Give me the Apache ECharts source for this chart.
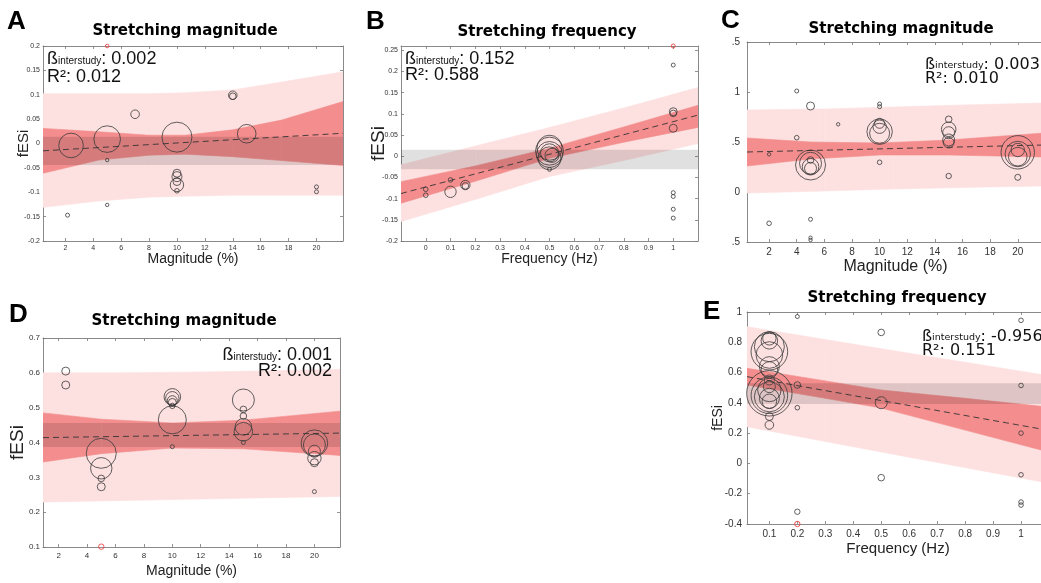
<!DOCTYPE html>
<html>
<head>
<meta charset="utf-8">
<title>fESi meta-regression</title>
<script src="https://cdn.jsdelivr.net/npm/echarts@6/dist/echarts.min.js"></script>
<style>
html, body { margin: 0; padding: 0; background: #fff; }
#chart { width: 1041px; height: 583px; }
</style>
</head>
<body>
<div id="chart"></div>
<script>
// ---- tick values ----
var magTicks = [2, 4, 6, 8, 10, 12, 14, 16, 18, 20];
var freqTicks = [0, 0.1, 0.2, 0.3, 0.4, 0.5, 0.6, 0.7, 0.8, 0.9, 1];
var freqTicksE = [0.1, 0.2, 0.3, 0.4, 0.5, 0.6, 0.7, 0.8, 0.9, 1];
var aYTicks = [-0.2, -0.15, -0.1, -0.05, 0, 0.05, 0.1, 0.15, 0.2];
var bYTicks = [-0.2, -0.15, -0.1, -0.05, 0, 0.05, 0.1, 0.15, 0.2, 0.25];
var cYTicks = [-0.5, 0, 0.5, 1, 1.5];
var cYLabels = ['.5', '0', '.5', '1', '.5'];
var dYTicks = [0.1, 0.2, 0.3, 0.4, 0.5, 0.6, 0.7];
var eYTicks = [-0.4, -0.2, 0, 0.2, 0.4, 0.6, 0.8, 1];

// ---- A: stretching magnitude ----  [x, fESi, weight]
var aStudies = [[2.16, -0.147, 2], [2.41, -0.004, 12.3], [5, 0.009, 13.3], [5, -0.034, 1.7], [5, -0.126, 1.7],
  [7, 0.060, 4.3], [10, 0.013, 15], [10, -0.061, 4], [10, -0.068, 5], [10, -0.078, 4], [10, -0.085, 6.7],
  [10, -0.097, 2.3], [14, 0.099, 4.3], [14, 0.097, 3.3], [15, 0.020, 9.3], [20, -0.089, 2], [20, -0.099, 2]];
var aOutliers = [[5, 0.2, 1.8]];
// [x, lower, upper]
var aOuter = [[0.4, -0.131, 0.102], [4.4, -0.118, 0.102], [8, -0.110, 0.102], [10.6, -0.108, 0.104],
  [14, -0.106, 0.110], [17.5, -0.106, 0.126], [21.9, -0.106, 0.147]];
var aInner = [[0.4, -0.061, 0.031], [4.4, -0.034, 0.024], [8, -0.024, 0.017], [10.6, -0.022, 0.017],
  [14, -0.027, 0.028], [17.5, -0.035, 0.048], [21.9, -0.045, 0.086]];
var aNull = [[0.4, -0.044, 0.014], [21.9, -0.044, 0.014]];
var aFit = [[0.4, -0.015], [21.9, 0.021]];

// ---- B: stretching frequency ----
var bStudies = [[0, -0.078, 2.3], [0, -0.092, 2.3], [0.1, -0.056, 2.3], [0.1, -0.084, 5.7], [0.16, -0.068, 4.7],
  [0.16, -0.070, 3.3], [0.5, 0.020, 12.5], [0.5, 0.012, 14], [0.5, 0.004, 13], [0.5, -0.005, 11.5],
  [0.5, 0.008, 9], [0.51, 0.002, 7], [0.5, -0.031, 2], [1, 0.215, 2], [1, 0.105, 4], [1, 0.101, 3.3],
  [1, 0.066, 4], [1, -0.086, 2], [1, -0.095, 2], [1, -0.125, 2], [1, -0.146, 2]];
var bOutliers = [[1, 0.26, 2]];
var bOuter = [[-0.1, -0.154, -0.020], [0.2, -0.102, 0.024], [0.5, -0.048, 0.068], [0.8, -0.010, 0.114], [1.1, 0.030, 0.162]];
var bInner = [[-0.1, -0.111, -0.060], [0.2, -0.059, -0.023], [0.5, -0.005, 0.019], [0.8, 0.033, 0.069], [1.1, 0.068, 0.120]];
var bNull = [[-0.1, -0.031, 0.015], [1.1, -0.031, 0.015]];
var bFit = [[-0.1, -0.088], [1.1, 0.097]];

// ---- C: stretching magnitude ----
var cStudies = [[2, 0.377, 1.7], [2, -0.313, 2.3], [4, 1.01, 2], [4, 0.543, 2.3], [5, 0.86, 4], [5, 0.27, 15],
  [5, 0.287, 11], [5, 0.253, 8.3], [5, 0.237, 6], [5, 0.32, 3.3], [5, -0.273, 2], [5, -0.457, 1.7], [5, -0.48, 1.7],
  [7, 0.677, 1.7], [10, 0.88, 2], [10, 0.853, 2], [10, 0.603, 12.7], [10, 0.587, 10], [10, 0.653, 6.7],
  [10, 0.687, 5], [10, 0.297, 2.3], [15, 0.727, 3.3], [15, 0.627, 7.3], [15, 0.593, 6], [15, 0.52, 6],
  [15, 0.493, 5.3], [15, 0.16, 2.7], [20, 0.397, 16.7], [20, 0.38, 12.7], [20, 0.42, 6.7], [20, 0.353, 9.3],
  [20, 0.147, 3]];
var cOutliers = [[5, -0.503, 1.7]];
var cOuter = [[0.4, -0.01, 0.82], [6, 0.01, 0.83], [11, 0.03, 0.85], [16, 0.045, 0.87], [21.9, 0.06, 0.89]];
var cInner = [[0.4, 0.26, 0.54], [5, 0.33, 0.50], [10, 0.37, 0.49], [15, 0.37, 0.52], [21.9, 0.35, 0.59]];
var cFit = [[0.4, 0.40], [21.9, 0.47]];

// ---- D: stretching magnitude ----
var dStudies = [[2.5, 0.605, 4], [2.5, 0.565, 4], [5, 0.369, 15], [5, 0.326, 10.7], [5, 0.297, 3.3], [5, 0.273, 4],
  [10, 0.531, 8.3], [10, 0.527, 6.7], [10, 0.52, 5], [10, 0.515, 4], [10, 0.505, 2.7], [10, 0.465, 14],
  [10, 0.388, 2], [15, 0.522, 11], [15, 0.495, 3.3], [15, 0.476, 3.3], [15, 0.445, 8.3], [15, 0.431, 9.3],
  [15, 0.4, 2], [20, 0.398, 13.3], [20, 0.393, 11], [20, 0.375, 6], [20, 0.355, 6.7], [20, 0.342, 4],
  [20, 0.259, 2]];
var dOutliers = [[5, 0.101, 2.7]];
var dOuter = [[0.9, 0.229, 0.600], [6, 0.233, 0.600], [11, 0.237, 0.602], [16, 0.241, 0.605], [21.8, 0.245, 0.610]];
var dInner = [[0.9, 0.344, 0.485], [5, 0.368, 0.467], [10, 0.384, 0.456], [15, 0.382, 0.464], [21.8, 0.363, 0.490]];
var dNull = [[0.9, 0.387, 0.456], [21.8, 0.387, 0.456]];
var dFit = [[0.9, 0.414], [21.8, 0.427]];

// ---- E: stretching frequency ----
var eStudies = [[0.1, 0.826, 6.7], [0.1, 0.81, 8.3], [0.1, 0.771, 15], [0.1, 0.738, 18.3], [0.1, 0.716, 13.3],
  [0.1, 0.639, 10], [0.1, 0.617, 8.3], [0.1, 0.551, 5], [0.1, 0.507, 6], [0.1, 0.485, 11.7], [0.1, 0.463, 22.7],
  [0.1, 0.45, 18.3], [0.1, 0.44, 15], [0.1, 0.43, 10], [0.1, 0.41, 7.3], [0.1, 0.31, 4], [0.1, 0.254, 4.3],
  [0.2, 0.97, 2], [0.2, 0.518, 3.3], [0.2, 0.368, 2.3], [0.2, -0.319, 2.7],
  [0.5, 0.865, 3.3], [0.5, 0.401, 6], [0.5, -0.094, 3.3],
  [1, 0.945, 2.3], [1, 0.515, 2.3], [1, 0.2, 2.3], [1, -0.075, 2.3], [1, -0.255, 2.3], [1, -0.275, 2.3]];
var eOutliers = [[0.2, -0.4, 2.7]];
var eOuter = [[0.02, 0.242, 0.903], [0.3, 0.145, 0.818], [0.6, 0.041, 0.728], [1.1, -0.131, 0.579]];
var eInner = [[0.02, 0.518, 0.628], [0.3, 0.43, 0.545], [0.5, 0.366, 0.485], [0.8, 0.22, 0.43], [1.1, 0.075, 0.372]];
var eNull = [[0.02, 0.392, 0.529], [1.1, 0.392, 0.529]];
var eFit = [[0.02, 0.573], [1.1, 0.218]];

var panels = [
  { grid: { left: 43, top: 46, width: 300, height: 195 }, x: [0.4, 21.9], y: [-0.2, 0.2],
    xTicks: magTicks, yTicks: aYTicks, xName: 'Magnitude (%)', yName: 'fESi',
    tickFont: 7, xMargin: 4, yMargin: 3, xNameFont: 14, xNameGap: 11, yNameFont: 15, yNameGap: 12,
    studies: aStudies, outliers: aOutliers, outer: aOuter, inner: aInner, nullBand: aNull, fit: aFit },
  { grid: { left: 401, top: 46, width: 297, height: 195 }, x: [-0.1, 1.1], y: [-0.2, 0.26],
    xTicks: freqTicks, yTicks: bYTicks, xName: 'Frequency (Hz)', yName: 'fESi',
    tickFont: 7, xMargin: 4, yMargin: 3, xNameFont: 14, xNameGap: 11, yNameFont: 19, yNameGap: 13,
    studies: bStudies, outliers: bOutliers, outer: bOuter, inner: bInner, nullBand: bNull, fit: bFit },
  { grid: { left: 747, top: 42, width: 297, height: 200 }, x: [0.4, 21.9], y: [-0.5, 1.5],
    xTicks: magTicks, yTicks: cYTicks, yLabels: cYLabels, xName: 'Magnitude (%)', yName: '',
    tickFont: 10, xMargin: 5, yMargin: 7, xNameFont: 16, xNameGap: 17, yNameFont: 15, yNameGap: 13,
    studies: cStudies, outliers: cOutliers, outer: cOuter, inner: cInner, nullBand: null, fit: cFit },
  { grid: { left: 43, top: 338, width: 297, height: 209 }, x: [0.9, 21.8], y: [0.1, 0.7],
    xTicks: magTicks, yTicks: dYTicks, xName: 'Magnitude (%)', yName: 'fESi',
    tickFont: 8, xMargin: 5, yMargin: 3, xNameFont: 14, xNameGap: 17, yNameFont: 19, yNameGap: 16,
    studies: dStudies, outliers: dOutliers, outer: dOuter, inner: dInner, nullBand: dNull, fit: dFit },
  { grid: { left: 747, top: 312, width: 302, height: 212 }, x: [0.02, 1.1], y: [-0.4, 1],
    xTicks: freqTicksE, yTicks: eYTicks, xName: 'Frequency (Hz)', yName: 'fESi',
    tickFont: 10, xMargin: 5, yMargin: 5, xNameFont: 15, xNameGap: 17, yNameFont: 14, yNameGap: 22,
    studies: eStudies, outliers: eOutliers, outer: eOuter, inner: eInner, nullBand: eNull, fit: eFit }
];

function fmt(v) {
  return String(Math.round(v * 100) / 100);
}

// each band point draws the strip up to the next one
function renderBand(params, api) {
  var i = params.dataIndexInside;
  if (i + 1 >= params.dataInsideLength) return null;
  var pts = [
    api.coord([api.value(0, i), api.value(1, i)]),
    api.coord([api.value(0, i + 1), api.value(1, i + 1)]),
    api.coord([api.value(0, i + 1), api.value(2, i + 1)]),
    api.coord([api.value(0, i), api.value(2, i)])
  ];
  var color = api.visual('color');
  var seam = params.dataInsideLength > 2;
  return {
    type: 'polygon',
    shape: { points: pts },
    style: { fill: color, stroke: seam ? color : null, lineWidth: seam ? 0.6 : 0 }
  };
}

var grids = [], xAxes = [], yAxes = [], series = [];
var boxLine = { show: true, onZero: false, lineStyle: { color: '#8a8a8a', width: 1 } };

panels.forEach(function (p, k) {
  grids.push(Object.assign({ containLabel: false, outerBoundsMode: 'none', show: false }, p.grid));
  var tickStyle = { show: true, inside: true, length: 3, lineStyle: { color: '#777', width: 0.8 } };
  xAxes.push({
    type: 'value', gridIndex: k, min: p.x[0], max: p.x[1], position: 'bottom',
    axisLine: boxLine, splitLine: { show: false },
    axisTick: Object.assign({ customValues: p.xTicks }, tickStyle),
    axisLabel: { customValues: p.xTicks, fontSize: p.tickFont, color: '#333', margin: p.xMargin,
      fontFamily: 'Liberation Sans', formatter: fmt },
    name: p.xName, nameLocation: 'middle', nameGap: p.xNameGap, nameMoveOverlap: false,
    nameTextStyle: { fontSize: p.xNameFont, color: '#222', fontFamily: 'Liberation Sans' }
  });
  xAxes.push({
    type: 'value', gridIndex: k, min: p.x[0], max: p.x[1], position: 'top',
    axisLine: boxLine, splitLine: { show: false },
    axisTick: Object.assign({ customValues: p.xTicks }, tickStyle),
    axisLabel: { show: false }
  });
  var yLabels = p.yLabels;
  yAxes.push({
    type: 'value', gridIndex: k, min: p.y[0], max: p.y[1], position: 'left',
    axisLine: boxLine, splitLine: { show: false },
    axisTick: Object.assign({ customValues: p.yTicks }, tickStyle),
    axisLabel: { customValues: p.yTicks, fontSize: p.tickFont, color: '#333', margin: p.yMargin,
      fontFamily: 'Liberation Sans',
      formatter: function (v) {
        if (yLabels) {
          for (var j = 0; j < p.yTicks.length; j++) {
            if (Math.abs(p.yTicks[j] - v) < 1e-6) return yLabels[j];
          }
        }
        return fmt(v);
      } },
    name: p.yName, nameLocation: 'middle', nameGap: p.yNameGap, nameMoveOverlap: false,
    nameTextStyle: { fontSize: p.yNameFont, color: '#222', fontFamily: 'Liberation Sans' }
  });
  yAxes.push({
    type: 'value', gridIndex: k, min: p.y[0], max: p.y[1], position: 'right',
    axisLine: boxLine, splitLine: { show: false },
    axisTick: Object.assign({ customValues: p.yTicks }, tickStyle),
    axisLabel: { show: false }
  });

  var xi = k * 2, yi = k * 2;
  series.push({ type: 'custom', xAxisIndex: xi, yAxisIndex: yi, renderItem: renderBand, clip: true,
    encode: { x: 0, y: [1, 2] }, data: p.outer, itemStyle: { color: '#fde0e0' }, silent: true });
  series.push({ type: 'custom', xAxisIndex: xi, yAxisIndex: yi, renderItem: renderBand, clip: true,
    encode: { x: 0, y: [1, 2] }, data: p.inner, itemStyle: { color: '#f48d8d' }, silent: true });
  if (p.nullBand) {
    series.push({ type: 'custom', xAxisIndex: xi, yAxisIndex: yi, renderItem: renderBand, clip: true,
      encode: { x: 0, y: [1, 2] }, data: p.nullBand, itemStyle: { color: 'rgba(0,0,0,0.12)' }, silent: true });
  }
  series.push({ type: 'line', xAxisIndex: xi, yAxisIndex: yi, data: p.fit, symbol: 'none', silent: true,
    lineStyle: { color: '#333', width: 0.9, type: [6, 4] } });
  series.push({ type: 'scatter', xAxisIndex: xi, yAxisIndex: yi, data: p.studies, symbol: 'circle',
    symbolSize: function (v) { return v[2] * 2; }, silent: true,
    itemStyle: { color: 'rgba(0,0,0,0)', borderColor: '#3a3a3a', borderWidth: 0.8, opacity: 1 } });
  series.push({ type: 'scatter', xAxisIndex: xi, yAxisIndex: yi, data: p.outliers, symbol: 'circle',
    symbolSize: function (v) { return v[2] * 2; }, silent: true,
    itemStyle: { color: 'rgba(0,0,0,0)', borderColor: '#ee4444', borderWidth: 0.9, opacity: 1 } });
});

function letter(t, x, y) {
  return { type: 'text', z: 100, x: x, y: y, style: { text: t, font: 'bold 26px "Liberation Sans"', fill: '#000', verticalAlign: 'middle' } };
}
function heading(t, x, y) {
  return { type: 'text', z: 100, x: x, y: y, style: { text: t, font: 'bold 15px "DejaVu Sans"', fill: '#000', align: 'center', verticalAlign: 'middle' } };
}
function stat(beta, r2, x, y1, y2, align, family, big, small) {
  var rich = {
    b: { fontSize: big, fontFamily: family, fill: '#111', verticalAlign: 'bottom', lineHeight: big * 1.2 },
    s: { fontSize: small, fontFamily: family, fill: '#111', verticalAlign: 'bottom', lineHeight: small * 1.2,
      padding: [0, 0, 2, 0] }
  };
  return [
    { type: 'text', z: 100, x: x, y: y1, style: { text: '{b|ß}{s|interstudy}{b|: ' + beta + '}', rich: rich, align: align, verticalAlign: 'middle' } },
    { type: 'text', z: 100, x: x, y: y2, style: { text: 'R²: ' + r2, fontSize: big, fontFamily: family, fill: '#111', align: align, verticalAlign: 'middle' } }
  ];
}

var texts = [
  letter('A', 7, 22), letter('B', 366, 22), letter('C', 721, 21), letter('D', 9, 315), letter('E', 703, 312),
  heading('Stretching magnitude', 185, 31), heading('Stretching frequency', 547, 32),
  heading('Stretching magnitude', 901, 29), heading('Stretching magnitude', 184, 321),
  heading('Stretching frequency', 897, 298)
].concat(
  stat('0.002', '0.012', 47, 57, 77, 'left', 'Liberation Sans', 18, 10),
  stat('0.152', '0.588', 405, 57, 75, 'left', 'Liberation Sans', 18, 10),
  stat('0.003', '0.010', 925, 63, 79, 'left', 'DejaVu Sans', 16, 9.5),
  stat('0.001', '0.002', 332, 353, 371, 'right', 'Liberation Sans', 18, 10),
  stat('-0.956', '0.151', 922, 335, 351, 'left', 'DejaVu Sans', 16, 9.5)
);

var chart = echarts.init(document.getElementById('chart'), null, { renderer: 'canvas' });
chart.setOption({
  animation: false,
  backgroundColor: '#fff',
  grid: grids,
  xAxis: xAxes,
  yAxis: yAxes,
  series: series,
  graphic: { elements: texts }
});
</script>
</body>
</html>
